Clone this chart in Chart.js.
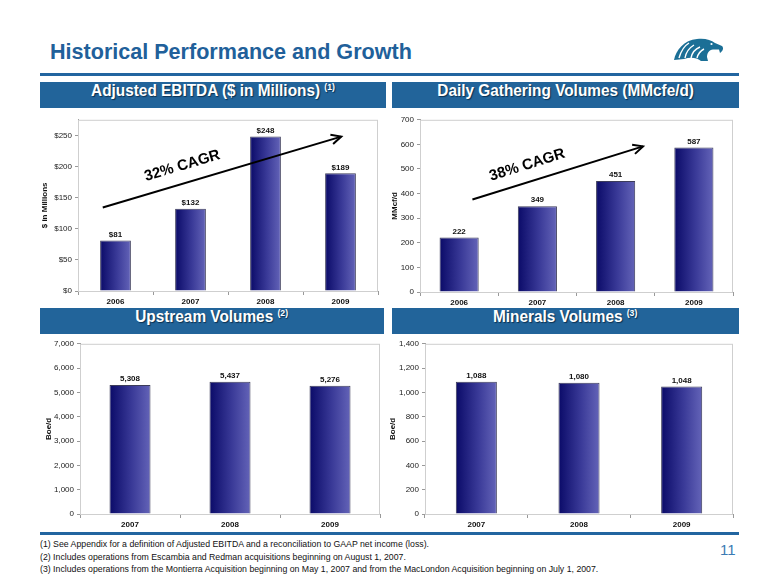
<!DOCTYPE html>
<html>
<head>
<meta charset="utf-8">
<script src="https://cdn.jsdelivr.net/npm/chart.js@4/dist/chart.umd.min.js"></script>
<style>
  body { margin: 0; background: #fff; }
  #page { position: relative; width: 780px; height: 585px; overflow: hidden; font-family: "Liberation Sans", Arial, sans-serif; }
  .title { position: absolute; left: 50px; top: 39px; font: bold 22px "Liberation Sans", Arial, sans-serif; color: #21609a; white-space: nowrap;
           transform: scaleX(0.98); transform-origin: left top; }
  .rule { position: absolute; left: 40px; width: 699px; height: 3px; background: #2265a0; }
  .hdr { position: absolute; height: 26px; background: #22649a; color: #fff; text-align: center; line-height: 26px;
         font: bold 16px "Liberation Sans", Arial, sans-serif; text-shadow: 1px 1px 1px #0b3050; }
  .hdr span { display: inline-block; transform: scaleX(0.96); }
  .hdr sup { font-size: 9px; vertical-align: 6px; line-height: 0; }
  canvas { position: absolute; }
  .notes { position: absolute; left: 40px; top: 538px; font: 9.5px "Liberation Sans", Arial, sans-serif; color: #111; line-height: 12.5px; white-space: nowrap;
           transform: scaleX(0.92); transform-origin: left top; }
  .pnum { position: absolute; left: 720px; top: 541px; font: 15px "Liberation Sans", Arial, sans-serif; color: #3b7bb4; }
  .logo { position: absolute; left: 671px; top: 37px; }
</style>
</head>
<body>
<div id="page">
  <div class="title">Historical Performance and Growth</div>
  <svg class="logo" width="53" height="25" viewBox="0 0 53 25">
    <path fill="#1b6f96" d="M3 23 C5 13 13 3 26 2 C34 1 40 3 44 6 L51 9 C53 11 52 14 49 16 L48 12.5 L42 12.5 C38 13 36 16 36 20 L37 24 L30 24 C25 20 19 20 13 22 Z"/>
    <path fill="none" stroke="#fff" stroke-width="1.4" d="M8 21 C10 14 13 9 18 6 M14 21 C15 15 18 11 23 8 M20 21 C21 16 24 12 29 10 M26 21 C27 17 29 14 33 12"/>
    <circle cx="40.5" cy="7" r="1.1" fill="#fff"/>
  </svg>
  <div class="rule" style="top:73px"></div>

  <div class="hdr" style="left:40px; top:82px; width:346px"><span>Adjusted EBITDA ($ in Millions) <sup>(1)</sup></span></div>
  <div class="hdr" style="left:392px; top:82px; width:347px"><span>Daily Gathering Volumes (MMcfe/d)</span></div>
  <div class="hdr" style="left:40px; top:308px; width:344px"><span>Upstream Volumes <sup>(2)</sup></span></div>
  <div class="hdr" style="left:392px; top:308px; width:347px"><span>Minerals Volumes <sup>(3)</sup></span></div>

  <canvas id="ebitda" width="350" height="195" style="left:36px; top:112px"></canvas>
  <canvas id="gathering" width="350" height="195" style="left:388px; top:112px"></canvas>
  <canvas id="upstream" width="350" height="196" style="left:36px; top:336px"></canvas>
  <canvas id="minerals" width="350" height="196" style="left:388px; top:336px"></canvas>

  <div class="rule" style="top:532px"></div>
  <div class="notes">
    (1) See Appendix for a definition of Adjusted EBITDA and a reconciliation to GAAP net income (loss).<br>
    (2) Includes operations from Escambia and Redman acquisitions beginning on August 1, 2007.<br>
    (3) Includes operations from the Montierra Acquisition beginning on May 1, 2007 and from the MacLondon Acquisition beginning on July 1, 2007.
  </div>
  <div class="pnum">11</div>
</div>

<script>
// data
const ebitdaYears = ['2006', '2007', '2008', '2009'];
const ebitdaValues = [81, 132, 248, 189];
const ebitdaTicks = [0, 50, 100, 150, 200, 250];

const gatheringYears = ['2006', '2007', '2008', '2009'];
const gatheringValues = [222, 349, 451, 587];
const gatheringTicks = [0, 100, 200, 300, 400, 500, 600, 700];

const volumeYears = ['2007', '2008', '2009'];
const upstreamValues = [5308, 5437, 5276];
const upstreamTicks = [0, 1000, 2000, 3000, 4000, 5000, 6000, 7000];
const mineralsValues = [1088, 1080, 1048];
const mineralsTicks = [0, 200, 400, 600, 800, 1000, 1200, 1400];

Chart.defaults.font.family = '"Liberation Sans", Arial, sans-serif';
Chart.defaults.font.size = 8;
Chart.defaults.color = '#222';

var money = function(v) { return '$' + v; };
var comma = function(v) { return v.toLocaleString('en-US'); };

// light grey box round the plot
var frame = {
    id: 'frame',
    beforeDatasetsDraw: function(chart) {
        var a = chart.chartArea, c = chart.ctx;
        c.save();
        c.strokeStyle = '#cfcfcf';
        c.lineWidth = 1;
        c.strokeRect(a.left + 0.5, a.top + 0.5, a.width - 1, a.height);
        c.restore();
    }
};

// number over each bar
var valueLabels = {
    id: 'valueLabels',
    afterDatasetsDraw: function(chart, args, opts) {
        var c = chart.ctx, ds = chart.data.datasets[0];
        c.save();
        c.font = 'bold 8px "Liberation Sans", Arial, sans-serif';
        c.fillStyle = '#111';
        c.textAlign = 'center';
        c.textBaseline = 'bottom';
        chart.getDatasetMeta(0).data.forEach(function(bar, i) {
            c.fillText(opts.fmt(ds.data[i]), bar.x, bar.y - 2);
        });
        c.restore();
    }
};

// growth arrow with the CAGR text, placed in data units
var cagr = {
    id: 'cagr',
    afterDatasetsDraw: function(chart, args, opts) {
        if (!opts.text) return;
        var c = chart.ctx, xs = chart.scales.x, ys = chart.scales.y;
        var x1 = xs.getPixelForValue(opts.from[0]), y1 = ys.getPixelForValue(opts.from[1]);
        var x2 = xs.getPixelForValue(opts.to[0]), y2 = ys.getPixelForValue(opts.to[1]);
        var ang = Math.atan2(y2 - y1, x2 - x1);
        c.save();
        c.strokeStyle = '#000';
        c.lineWidth = 2;
        c.beginPath();
        c.moveTo(x1, y1);
        c.lineTo(x2, y2);
        c.stroke();
        c.beginPath();
        c.moveTo(x2 - 11 * Math.cos(ang - 0.45), y2 - 11 * Math.sin(ang - 0.45));
        c.lineTo(x2, y2);
        c.lineTo(x2 - 11 * Math.cos(ang + 0.45), y2 - 11 * Math.sin(ang + 0.45));
        c.stroke();
        var tx = xs.getPixelForValue(opts.at[0]), ty = ys.getPixelForValue(opts.at[1]);
        c.translate(tx, ty);
        c.rotate(ang);
        c.font = 'bold 15px "Liberation Sans", Arial, sans-serif';
        c.fillStyle = '#000';
        c.textAlign = 'center';
        c.textBaseline = 'middle';
        c.fillText(opts.text, 0, 0);
        c.restore();
    }
};

function makeBar(id, labels, values, ticks, o) {
    var ctx = document.getElementById(id).getContext('2d');
    return new Chart(ctx, {
        type: 'bar',
        data: {
            labels: labels,
            datasets: [{
                data: values,
                backgroundColor: function(c) {
                    var chart = c.chart, area = chart.chartArea;
                    if (!area || c.dataIndex === undefined) return '#3a3a9a';
                    var cx = chart.scales.x.getPixelForValue(c.dataIndex);
                    var w = area.width / labels.length * o.barPct;
                    var g = chart.ctx.createLinearGradient(cx - w / 2, 0, cx + w / 2, 0);
                    g.addColorStop(0, '#0a0a68');
                    g.addColorStop(0.55, '#3a3a98');
                    g.addColorStop(1, '#6464b8');
                    return g;
                },
                borderColor: '#3c3c5a',
                borderWidth: 1,
                barPercentage: o.barPct,
                categoryPercentage: 1
            }]
        },
        options: {
            responsive: false,
            animation: false,
            events: [],
            layout: { padding: o.pad },
            plugins: {
                legend: { display: false },
                tooltip: { enabled: false },
                valueLabels: { fmt: o.fmt },
                cagr: o.cagr || {}
            },
            scales: {
                x: {
                    grid: { drawOnChartArea: false, offset: true, tickLength: 4, color: '#999' },
                    border: { color: '#999' },
                    ticks: { font: { weight: 'bold', size: 8 }, padding: 2, color: '#111' },
                    afterFit: function(s) { s.height = o.xh; }
                },
                y: {
                    min: 0,
                    max: o.max,
                    grid: { drawOnChartArea: false, tickLength: 3, color: '#999' },
                    border: { color: '#999' },
                    ticks: { padding: 3, color: '#222', callback: function(v) { return o.tickFmt(v); } },
                    afterBuildTicks: function(s) { s.ticks = ticks.map(function(v) { return { value: v }; }); },
                    title: { display: true, text: o.title, font: { weight: 'bold', size: 8 }, padding: o.titlePad, color: '#111' },
                    afterFit: function(s) { s.width = o.yw; }
                }
            }
        },
        plugins: [frame, valueLabels, cagr]
    });
}

makeBar('ebitda', ebitdaYears, ebitdaValues, ebitdaTicks, {
    max: 275, barPct: 0.41, yw: 42, xh: 16, title: '$ in Millions', titlePad: 4,
    pad: { top: 4, right: 8, left: 0, bottom: 0 },
    fmt: money, tickFmt: money,
    cagr: { text: '32% CAGR', from: [-0.17, 134], to: [3.01, 248], at: [0.89, 201] }
});

makeBar('gathering', gatheringYears, gatheringValues, gatheringTicks, {
    max: 700, barPct: 0.5, yw: 32, xh: 15, title: 'MMcf/d', titlePad: 2,
    pad: { top: 5, right: 5, left: 0, bottom: 0 },
    fmt: String, tickFmt: String,
    cagr: { text: '38% CAGR', from: [0.17, 376], to: [2.35, 592], at: [0.87, 516] }
});

makeBar('upstream', volumeYears, upstreamValues, upstreamTicks, {
    max: 7000, barPct: 0.41, yw: 44, xh: 18, title: 'Boe/d', titlePad: 8,
    pad: { top: 6, right: 6, left: 0, bottom: 0 },
    fmt: comma, tickFmt: comma
});

makeBar('minerals', volumeYears, mineralsValues, mineralsTicks, {
    max: 1400, barPct: 0.4, yw: 37, xh: 18, title: 'Boe/d', titlePad: 0,
    pad: { top: 6, right: 5, left: 0, bottom: 0 },
    fmt: comma, tickFmt: comma
});
</script>
</body>
</html>
